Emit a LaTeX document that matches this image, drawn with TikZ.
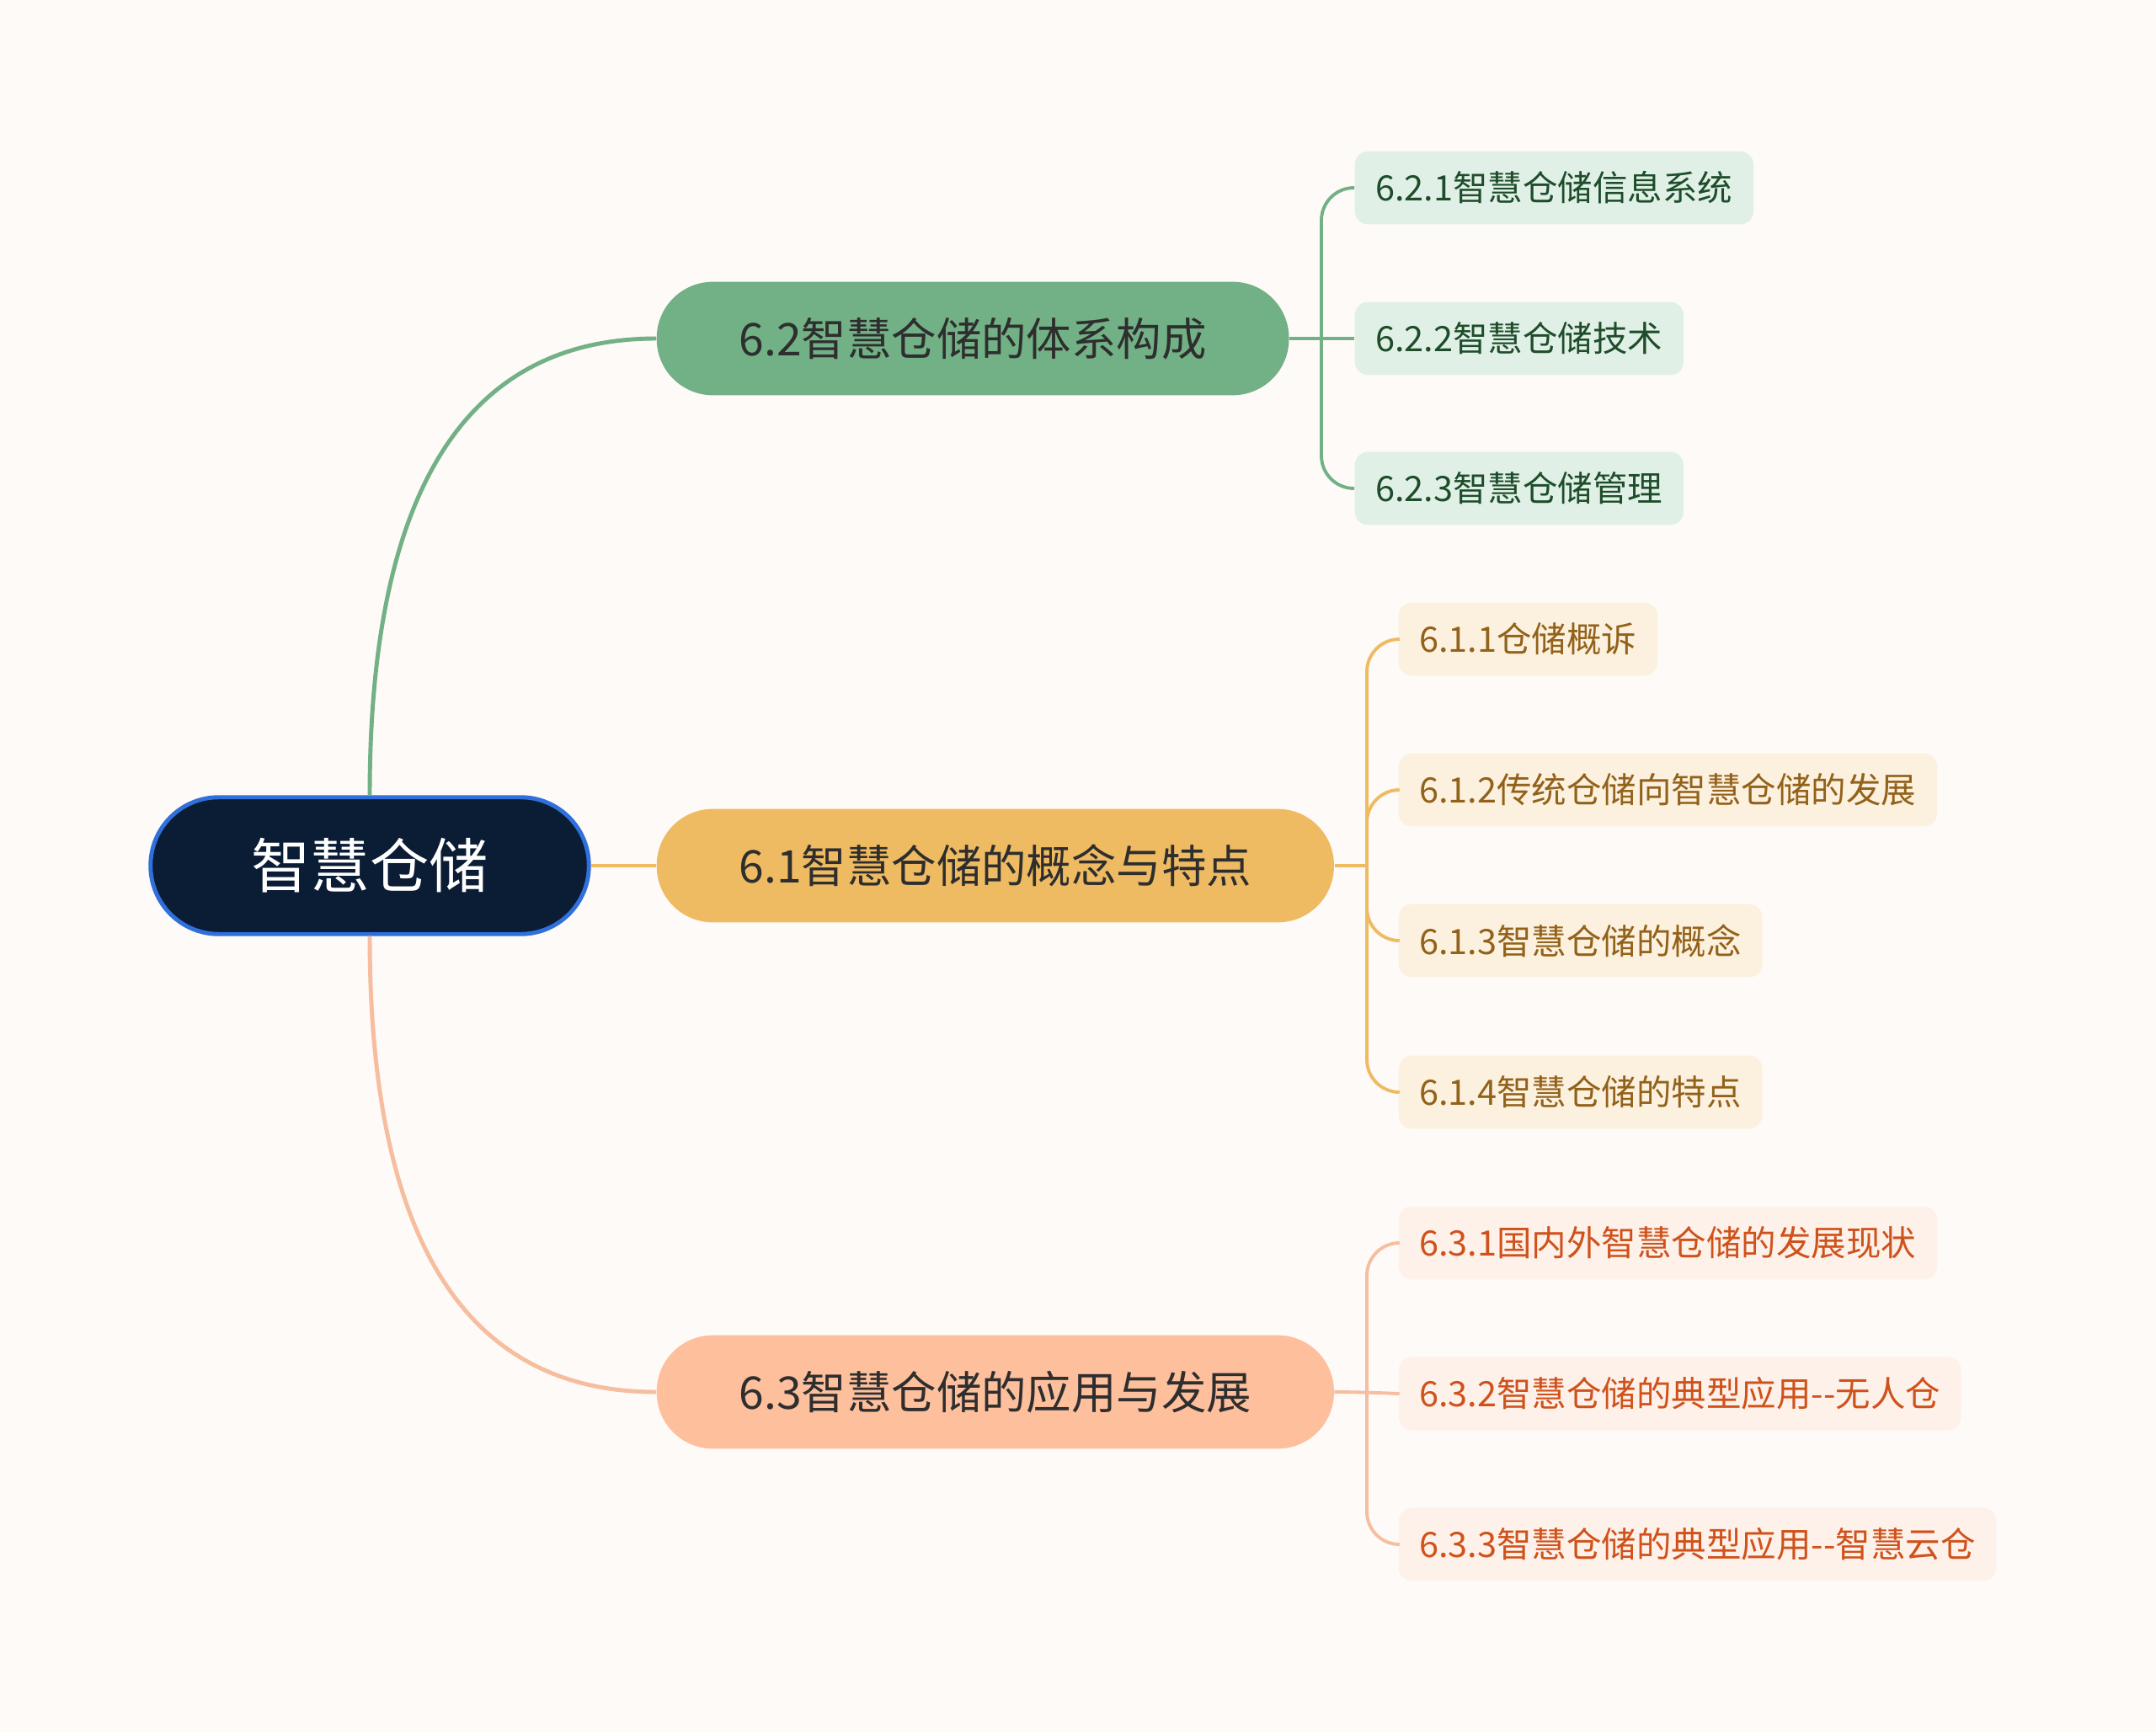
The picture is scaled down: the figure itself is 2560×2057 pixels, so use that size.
\documentclass[tikz,border=0pt]{standalone}
\usepackage{fontspec}
\setmainfont{Noto Sans CJK SC}
\usepackage{tikz}
\usetikzlibrary{positioning}
\usepackage{xcolor}
\definecolor{bgc}{HTML}{FDFAF8}
\definecolor{rootfill}{HTML}{0B1C35}
\definecolor{rootline}{HTML}{2F70DC}
\definecolor{maintext}{HTML}{2E2E2E}
\definecolor{gmain}{HTML}{72B085}
\definecolor{gsub}{HTML}{E1F0E6}
\definecolor{gtext}{HTML}{1E4D2B}
\definecolor{ymain}{HTML}{EFBB62}
\definecolor{ysub}{HTML}{FCF1DF}
\definecolor{ytext}{HTML}{93621A}
\definecolor{omain}{HTML}{FDBF9C}
\definecolor{oline}{HTML}{F6BE9E}
\definecolor{osub}{HTML}{FDF1EA}
\definecolor{otext}{HTML}{D0521B}

\begin{document}
\begin{tikzpicture}[x=0.01cm,y=-0.01cm,
 rootbox/.style={draw=rootline,line width=1.4pt,fill=rootfill,text=white,font=\fontsize{20}{24}\selectfont,rounded corners=23pt,minimum height=46.2pt,inner xsep=34pt,inner ysep=0pt},
 mainbox/.style={fill=#1,text=maintext,font=\fontsize{15.2}{18}\selectfont,rounded corners=19pt,minimum height=38.3pt,inner xsep=27.8pt,inner ysep=0pt,anchor=west},
 subbox/.style 2 args={fill=#1,text=#2,font=\fontsize{11.8}{14}\selectfont,rounded corners=4.5pt,minimum height=24.7pt,inner xsep=7pt,inner ysep=0pt,anchor=west},
 link/.style={draw=#1,line width=1.4pt},
 twig/.style={draw=#1,line width=1.1pt,rounded corners=11pt}]
\fill[bgc] (0,0) rectangle (2560,2057);
% root and main branches
\node[rootbox] (root) at (439,1028) {智慧仓储};
\node[mainbox=gmain] (g) at (779,402) {6.2智慧仓储的体系构成};
\node[mainbox=ymain] (y) at (779,1028) {6.1智慧仓储的概念与特点};
\node[mainbox=omain] (o) at (779,1653) {6.3智慧仓储的应用与发展};
\draw[link=gmain] (root.north) .. controls +(0,-400) and +(-200,0) .. (g.west);
\draw[link=ymain] (root.east) -- (y.west);
\draw[link=oline] (root.south) .. controls +(0,400) and +(-200,0) .. (o.west);
% 6.2
\node[subbox={gsub}{gtext}] (g1) at (1608,223) {6.2.1智慧仓储信息系统};
\node[subbox={gsub}{gtext}] (g2) at (1608,402) {6.2.2智慧仓储技术};
\node[subbox={gsub}{gtext}] (g3) at (1608,580) {6.2.3智慧仓储管理};
\coordinate (gs) at (1569,402);
\draw[twig=gmain] (g.east) -- (g2.west);
\foreach \n in {g1,g3} \draw[twig=gmain] (gs) |- (\n.west);
% 6.1
\node[subbox={ysub}{ytext}] (y1) at (1660,759) {6.1.1仓储概诉};
\node[subbox={ysub}{ytext}] (y2) at (1660,938) {6.1.2传统仓储向智慧仓储的发展};
\node[subbox={ysub}{ytext}] (y3) at (1660,1117) {6.1.3智慧仓储的概念};
\node[subbox={ysub}{ytext}] (y4) at (1660,1297) {6.1.4智慧仓储的特点};
\coordinate (ys) at (1623,1028);
\draw[twig=ymain] (y.east) -- (ys);
\foreach \n in {y1,y2,y3,y4} \draw[twig=ymain] (ys) |- (\n.west);
% 6.3
\node[subbox={osub}{otext}] (o1) at (1660,1476) {6.3.1国内外智慧仓储的发展现状};
\node[subbox={osub}{otext}] (o2) at (1660,1655) {6.3.2智慧仓储的典型应用-{}-无人仓};
\node[subbox={osub}{otext}] (o3) at (1660,1834) {6.3.3智慧仓储的典型应用-{}-智慧云仓};
\coordinate (os) at (1623,1653);
\draw[twig=oline] (o.east) -- (os) -- (o2.west);
\foreach \n in {o1,o3} \draw[twig=oline] (os) |- (\n.west);
\end{tikzpicture}
\end{document}
